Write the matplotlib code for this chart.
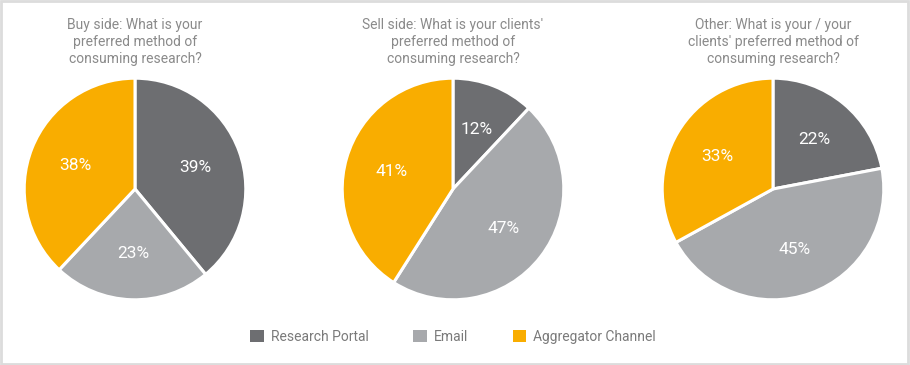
import matplotlib
matplotlib.use("Agg")
import matplotlib.pyplot as plt
from matplotlib.patches import Rectangle, Patch

plt.rcParams["font.family"] = ["Roboto", "DejaVu Sans"]

CATS = ["Research Portal", "Email", "Aggregator Channel"]
COLORS = ["#6d6e71", "#a7a9ac", "#f9ad00"]
TITLES = ["Buy side: What is your\npreferred method of\nconsuming research?",
          "Sell side: What is your clients'\npreferred method of\nconsuming research?",
          "Other: What is your / your\nclients' preferred method of\nconsuming research?"]
BUY = [39, 23, 38]
SELL = [12, 47, 41]
OTHER = [22, 45, 33]
SERIES = [BUY, SELL, OTHER]

W, H = 910, 365
fig = plt.figure(figsize=(W / 100, H / 100), dpi=100)
fig.patch.set_facecolor("white")

centers = [135, 453, 773]
cy, r = 189, 113
for cx, vals, title in zip(centers, SERIES, TITLES):
    ax = fig.add_axes([(cx - r) / W, (H - cy - r) / H, 2 * r / W, 2 * r / H])
    wedges, texts, autotexts = ax.pie(vals, colors=COLORS, startangle=90, counterclock=False,
                                      autopct=lambda p: f"{p:.0f}%", pctdistance=0.58,
                                      radius=1, wedgeprops=dict(edgecolor="white", linewidth=2.2))
    for t in autotexts:
        t.set_color("white"); t.set_fontsize(12.5)
    ax.set_xlim(-1.02, 1.02); ax.set_ylim(-1.02, 1.02)
    ax.set_axis_off()
    fig.text(cx / W, 1 - 18 / H, title, ha="center", va="top", fontsize=10,
             color="#8a8a8a", linespacing=1.25)

handles = [Patch(facecolor=c, label=l) for c, l in zip(COLORS, CATS)]
fig.legend(handles=handles, loc="center", bbox_to_anchor=(453 / W, 1 - 337 / H), ncol=3,
           frameon=False, fontsize=10, labelcolor="#7a7a7a", columnspacing=3.2,
           handlelength=1.0, handleheight=1.0, handletextpad=0.5)

fig.patches.append(Rectangle((0.001, 0.003), 0.997, 0.994, transform=fig.transFigure,
                             fill=False, edgecolor="#dcdcdc", linewidth=2))

fig.savefig("out.png", dpi=100)
